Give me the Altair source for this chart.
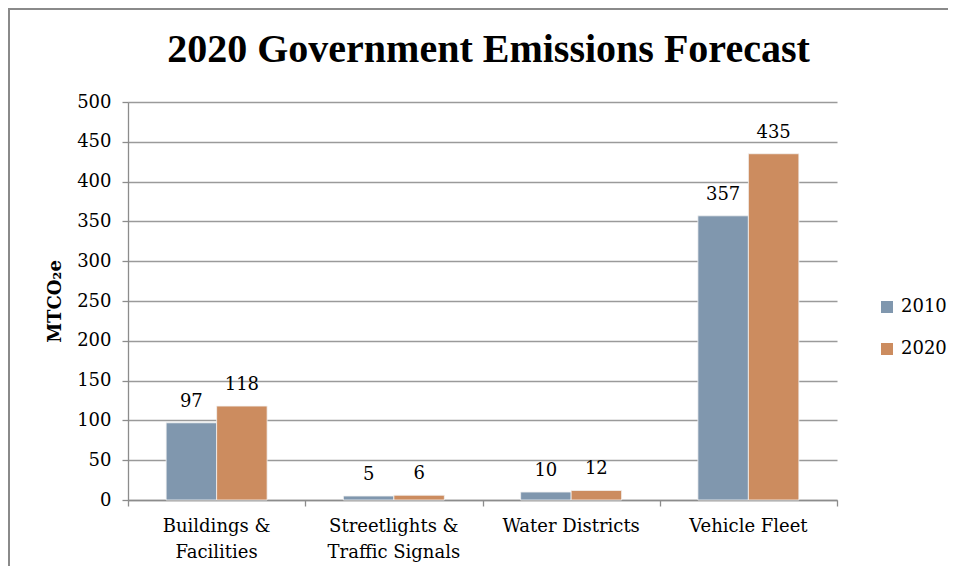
import altair as alt
import pandas as pd

title_text = "2020 Government Emissions Forecast"
categories = ["Buildings &\nFacilities", "Streetlights &\nTraffic Signals", "Water Districts", "Vehicle Fleet"]
years = ["2010", "2020"]
values_2010 = [97, 5, 10, 357]
values_2020 = [118, 6, 12, 435]
colors = ["#8097AE", "#CC8C5F"]
y_ticks = [0, 50, 100, 150, 200, 250, 300, 350, 400, 450, 500]

rows = []
for c, a, b in zip(categories, values_2010, values_2020):
    rows.append({"category": c, "year": "2010", "value": a})
    rows.append({"category": c, "year": "2020", "value": b})
df = pd.DataFrame(rows)

FONT = "DejaVu Serif"
TFONT = "Liberation Serif"
GRAY = "#8c8c8c"
W, H = 709, 398
PL, PT = 120, 94
SVG_W, SVG_H = 940, 558

xo_enc = alt.XOffset("year:N", sort=years,
                     scale=alt.Scale(paddingInner=0, paddingOuter=0.755))
y_scale = alt.Scale(domain=[0, 500])
y_axis = alt.Axis(title="MTCO₂e", values=y_ticks,
                  titleFont=FONT, titleFontSize=18, titleFontWeight="bold",
                  titleColor="#000", titlePadding=12,
                  labelFont=FONT, labelFontSize=18, labelColor="#000",
                  labelPadding=11, tickSize=6, tickColor=GRAY,
                  domainColor=GRAY, gridColor="#9a9a9a",
                  grid=True, tickWidth=1.3, domainWidth=1.3, gridWidth=1.3)
y_enc = alt.Y("value:Q", scale=y_scale, axis=y_axis)

bars = alt.Chart(df).mark_bar(stroke="#f4f4f4", strokeWidth=0.8).encode(
    x=alt.X("category:N", sort=categories, title=None,
            scale=alt.Scale(paddingInner=0, paddingOuter=0),
            axis=alt.Axis(orient="bottom", labelExpr="split(datum.label, '\\n')",
                          labelFont=FONT, labelFontSize=18, labelColor="#000",
                          labelPadding=17, labelLineHeight=26, labelAngle=0,
                          ticks=False, domain=False, grid=False)),
    xOffset=xo_enc,
    y=y_enc,
    color=alt.Color("year:N", sort=years, scale=alt.Scale(domain=years, range=colors),
                    legend=alt.Legend(title=None, orient="none", legendX=750, legendY=196,
                                      symbolType="square", symbolSize=144,
                                      symbolStrokeWidth=0, labelFont=FONT,
                                      labelFontSize=18, labelColor="#000",
                                      rowPadding=24, labelOffset=5)),
)

labels = alt.Chart(df).mark_text(font=FONT, fontSize=18, color="#000",
                                 baseline="bottom", dy=-12).encode(
    x=alt.X("category:N", sort=categories, axis=None),
    xOffset=xo_enc,
    y=y_enc,
    text="value:Q",
)

ticks_axis = alt.Chart(df).mark_bar(opacity=0).encode(
    x=alt.X("category:N", sort=categories, title=None,
            axis=alt.Axis(orient="bottom", labels=False, ticks=True, tickSize=6,
                          tickColor=GRAY, domainColor=GRAY,
                          bandPosition=0, tickBand="extent", domainWidth=1.3,
                          tickWidth=1.3, grid=False)),
    y=y_enc,
)

# chart title
title = alt.Chart(pd.DataFrame({"t": [title_text]})).mark_text(
    font=TFONT, fontSize=40, fontWeight="bold", color="#000",
    align="center", baseline="alphabetic").encode(
    x=alt.value(W / 2 + 6), y=alt.value(-40), text="t:N")

# outer chart frame (decoration)
frame_left = alt.Chart(df).mark_rule(color="#8a8a8a", strokeWidth=1.5).encode(
    x=alt.value(-PL + 1), y=alt.value(-PT), y2=alt.value(SVG_H - PT))
frame_top = alt.Chart(df).mark_rule(color="#8a8a8a", strokeWidth=1.5).encode(
    x=alt.value(-PL), x2=alt.value(SVG_W - PL), y=alt.value(-PT + 1))

chart = alt.layer(bars, labels, ticks_axis, title, frame_left, frame_top).resolve_axis(
    x="independent"
).properties(
    width=W, height=H,
    background="white",
    autosize=alt.AutoSizeParams(type="none"),
    padding={"left": PL, "top": PT, "right": SVG_W - PL - W, "bottom": SVG_H - PT - H},
).configure_view(stroke=None)

chart.save("out.html", embed_options={"renderer": "svg", "actions": False})
